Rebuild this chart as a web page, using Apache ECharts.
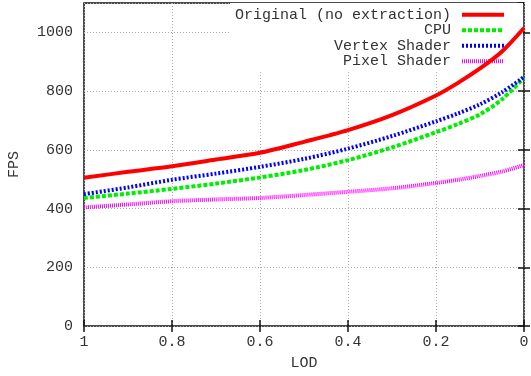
<!DOCTYPE html>
<html>
<head>
<meta charset="utf-8">
<script src="https://cdn.jsdelivr.net/npm/echarts@6/dist/echarts.min.js"></script>
<style>
  html, body { margin: 0; padding: 0; background: #fff; }
  #chart { width: 531px; height: 376px; }
</style>
</head>
<body>
<div id="chart"></div>
<script>
// values
const lod = [1, 0.9, 0.8, 0.7, 0.6, 0.5, 0.4, 0.3, 0.2, 0.15, 0.1, 0.05, 0];
const original = [505, 525, 544, 567, 590, 627, 667, 718, 785, 828, 877, 935, 1015];
const cpu = [436, 451, 467, 485, 506, 531, 565, 608, 660, 688, 721, 772, 845];
const vertexShader = [449, 472, 498, 519, 542, 569, 604, 647, 697, 724, 755, 796, 848];
const pixelShader = [404, 414, 425, 431, 436, 446, 457, 469, 487, 498, 511, 526, 548];

const seriesDefs = [
  { name: "Original (no extraction)", values: original, color: "#ff0000", type: "solid" },
  { name: "CPU", values: cpu, color: "#00ee00", type: [4, 2] },
  { name: "Vertex Shader", values: vertexShader, color: "#0000ff", type: [2, 2] },
  { name: "Pixel Shader", values: pixelShader, color: "#ff00ff", type: [1, 1] },
];

const font = "'Liberation Mono', 'DejaVu Sans Mono', monospace";
const textColor = "#333";
const fontSize = 15;

const chart = echarts.init(document.getElementById("chart"), null, { renderer: "canvas" });

const gridLine = { show: true, lineStyle: { color: "#aaa", type: [1, 2], width: 1 } };
const tickStyle = { show: true, inside: true, length: 6, lineStyle: { color: "#111", width: 1.5 } };

chart.setOption({
  animation: false,
  backgroundColor: "#fff",
  grid: {
    left: 84,
    right: 7,
    top: 3,
    bottom: 50,
    outerBoundsMode: "none",
    containLabel: false,
    show: true,
    borderColor: "#111",
    borderWidth: 1.5,
    backgroundColor: "transparent",
  },
  legend: {
    orient: "vertical",
    align: "right",
    right: 8,
    top: 3,
    padding: [4, 17, 3, 5],
    itemGap: 0,
    itemWidth: 42,
    itemHeight: 10,
    itemStyle: { opacity: 0 },
    lineStyle: { width: 4 },
    backgroundColor: "#fff",
    z: 1,
    textStyle: {
      fontFamily: font,
      fontSize: fontSize,
      color: textColor,
      lineHeight: 15.5,
      padding: [0, 6, 0, 0],
    },
    data: seriesDefs.map((d) => d.name),
  },
  xAxis: [
    {
      type: "value",
      min: 0,
      max: 1,
      interval: 0.2,
      inverse: true,
      name: "LOD",
      nameLocation: "middle",
      nameGap: 30,
      nameTextStyle: { fontFamily: font, fontSize: fontSize, color: textColor },
      axisLine: { show: false },
      axisTick: tickStyle,
      axisLabel: { fontFamily: font, fontSize: fontSize, color: textColor, margin: 9 },
      splitLine: gridLine,
    },
    {
      type: "value",
      position: "top",
      min: 0,
      max: 1,
      interval: 0.2,
      inverse: true,
      axisLine: { show: false },
      axisTick: tickStyle,
      axisLabel: { show: false },
      splitLine: { show: false },
    },
  ],
  yAxis: [
    {
      type: "value",
      min: 0,
      max: 1100,
      interval: 200,
      name: "FPS",
      nameLocation: "middle",
      nameRotate: 90,
      nameGap: 62,
      nameTextStyle: { fontFamily: font, fontSize: fontSize, color: textColor },
      axisLine: { show: false },
      axisTick: tickStyle,
      axisLabel: {
        fontFamily: font,
        fontSize: fontSize,
        color: textColor,
        margin: 11,
        showMaxLabel: false,
        formatter: (v) => String(v),
      },
      splitLine: gridLine,
    },
    {
      type: "value",
      position: "right",
      min: 0,
      max: 1100,
      interval: 200,
      axisLine: { show: false },
      axisTick: tickStyle,
      axisLabel: { show: false },
      splitLine: { show: false },
    },
  ],
  series: seriesDefs.map((d) => ({
    name: d.name,
    type: "line",
    smooth: 0.3,
    symbol: "none",
    z: 3,
    color: d.color,
    lineStyle: { color: d.color, width: 4, type: d.type },
    data: lod.map((x, i) => [x, d.values[i]]),
  })),
});
</script>
</body>
</html>
